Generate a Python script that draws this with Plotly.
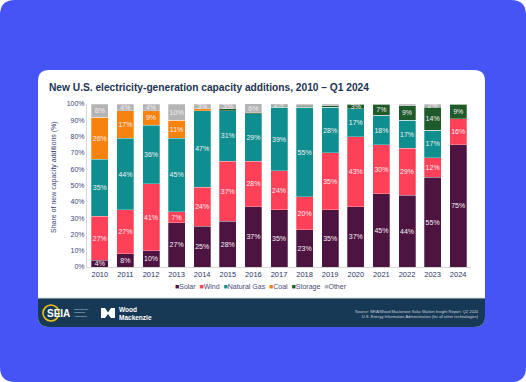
import plotly.graph_objects as go

years = ["2010", "2011", "2012", "2013", "2014", "2015", "2016", "2017",
         "2018", "2019", "2020", "2021", "2022", "2023", "2024"]
solar = [4, 8, 10, 27, 25, 28, 37, 35, 23, 35, 37, 45, 44, 55, 75]
wind = [27, 27, 41, 7, 24, 37, 28, 24, 20, 35, 43, 30, 29, 12, 16]
natural_gas = [35, 44, 36, 45, 47, 31, 29, 39, 55, 28, 17, 18, 17, 17, 0]
coal = [26, 17, 9, 11, 1, 0, 0, 0, 0, 0, 0, 0, 0, 0, 0]
storage = [0, 0, 0, 0, 0, 1, 0.5, 0.5, 0.5, 1, 3, 7, 9, 14, 9]
other = [8, 4, 4, 10, 3, 3, 6, 2, 1.5, 1, 0, 0, 1, 2, 0]

series = [
    ("Solar", solar, "#4E1441"),
    ("Wind", wind, "#FE4158"),
    ("Natural Gas", natural_gas, "#0F8E8F"),
    ("Coal", coal, "#F7830F"),
    ("Storage", storage, "#1F5A2A"),
    ("Other", other, "#B4B4B4"),
]

W, H = 526, 382
L, R, T, B = 87, 55, 104, 115
PW, PH = W - L - R, H - T - B


def px(x):
    return (x - L) / PW


def py(y):
    return (H - B - y) / PH


def rrect(x0, y0, x1, y1, r, tl=True, tr=True, br=True, bl=True):
    def p(x, y):
        return f"{px(x):.5f},{py(y):.5f}"
    s = ""
    s += "M " + (p(x0 + r, y0) if tl else p(x0, y0))
    s += " L " + (p(x1 - r, y0) if tr else p(x1, y0))
    if tr:
        s += " Q " + p(x1, y0) + " " + p(x1, y0 + r)
    s += " L " + (p(x1, y1 - r) if br else p(x1, y1))
    if br:
        s += " Q " + p(x1, y1) + " " + p(x1 - r, y1)
    s += " L " + (p(x0 + r, y1) if bl else p(x0, y1))
    if bl:
        s += " Q " + p(x0, y1) + " " + p(x0, y1 - r)
    s += " L " + (p(x0, y0 + r) if tl else p(x0, y0))
    if tl:
        s += " Q " + p(x0, y0) + " " + p(x0 + r, y0)
    s += " Z"
    return s


FONT = "Liberation Sans, Arial, sans-serif"

fig = go.Figure()
for name, vals, col in series:
    fig.add_trace(go.Bar(
        x=years, y=vals, name=name,
        marker=dict(color=col, line=dict(color="rgba(255,255,255,0.55)", width=0.5)),
        text=[f"{v:.0f}%" if v >= 2 else "" for v in vals],
        textposition="inside", insidetextanchor="middle", textangle=0,
        textfont=dict(size=7, color="#F4EEF3", family=FONT),
        showlegend=False, hoverinfo="skip",
    ))

shapes = [
    dict(type="path", path=rrect(0, 0, W, H, 15), xref="paper", yref="paper",
         fillcolor="#4654F5", line=dict(width=0), layer="below"),
    dict(type="path", path=rrect(38, 70, 485, 327, 11), xref="paper", yref="paper",
         fillcolor="#FFFFFF", line=dict(width=0), layer="below"),
    dict(type="path", path=rrect(38, 298, 485, 327, 11, tl=False, tr=False),
         xref="paper", yref="paper", fillcolor="#173955", line=dict(width=0), layer="below"),
    dict(type="line", x0=px(38), x1=px(485), y0=py(298), y1=py(298), xref="paper", yref="paper",
         line=dict(color="#D5D9DF", width=1), layer="below"),
    dict(type="circle", x0=px(43), x1=px(59), y0=py(321), y1=py(305), xref="paper", yref="paper",
         line=dict(color="#F3C21A", width=1.6), fillcolor="rgba(0,0,0,0)", layer="above"),
    dict(type="path", xref="paper", yref="paper", layer="above",
         path=("M {} L {} L {} L {} L {} L {} L {} L {} L {} L {} Z".format(
             *[f"{px(a):.5f},{py(b):.5f}" for a, b in
               [(101, 308), (105, 308), (108, 312.5), (111, 308), (115, 308),
                (115, 318), (111, 318), (108, 314), (105, 318), (101, 318)]])),
         fillcolor="#FFFFFF", line=dict(width=0)),
]

legend_html = "  ".join(
    f'<span style="color:{c}">■</span>{n}' for n, _, c in series
)

annotations = [
    dict(text="<b>New U.S. electricity-generation capacity additions, 2010 – Q1 2024</b>",
         x=px(47), y=py(88), xref="paper", yref="paper", xanchor="left", yanchor="middle",
         showarrow=False, font=dict(size=10.2, color="#1C3554", family=FONT)),
    dict(text="Share of new capacity additions (%)", textangle=-90,
         x=px(54), y=py(177), xref="paper", yref="paper", xanchor="center", yanchor="middle",
         showarrow=False, font=dict(size=7, color="#3B3F78", family=FONT)),
    dict(text=legend_html, x=px(261), y=py(287), xref="paper", yref="paper",
         xanchor="center", yanchor="middle", showarrow=False,
         font=dict(size=7, color="#4A4A7A", family=FONT)),
    dict(text="<b>SEIA</b>", x=px(45), y=py(313.5), xref="paper", yref="paper",
         xanchor="left", yanchor="middle", showarrow=False,
         font=dict(size=10, color="#FFFFFF", family=FONT)),
    dict(text="Solar Energy<br>Industries<br>Association", x=px(72), y=py(313), xref="paper",
         yref="paper", xanchor="left", yanchor="middle", showarrow=False, align="left",
         font=dict(size=2.5, color="#DDE3EA", family=FONT)),
    dict(text="<b>Wood<br>Mackenzie</b>", x=px(117), y=py(313.5), xref="paper", yref="paper",
         xanchor="left", yanchor="middle", showarrow=False, align="left",
         font=dict(size=6.5, color="#FFFFFF", family=FONT)),
    dict(text="Source: SEIA/Wood Mackenzie Solar Market Insight Report  Q2 2024<br>"
              "U.S. Energy Information Administration (for all other technologies)",
         x=px(481), y=py(314), xref="paper", yref="paper", xanchor="right", yanchor="middle",
         showarrow=False, align="right",
         font=dict(size=4, color="#C9D2DE", family=FONT)),
]

fig.update_layout(
    width=W, height=H,
    margin=dict(l=L, r=R, t=T, b=B, pad=0),
    paper_bgcolor="#FFFFFF", plot_bgcolor="rgba(0,0,0,0)",
    barmode="stack", bargap=0.336,
    shapes=shapes, annotations=annotations,
    font=dict(family=FONT),
    xaxis=dict(showgrid=False, showline=True, linecolor="#D6D6D6", linewidth=1,
               ticks="", tickfont=dict(size=7.5, color="#2A3565", family=FONT)),
    yaxis=dict(range=[0, 100], dtick=10, ticksuffix="%", showgrid=False, zeroline=False,
               showline=True, linecolor="#D6D6D6", linewidth=1, ticks="",
               tickfont=dict(size=7, color="#3B3F78", family=FONT)),
    uniformtext=dict(minsize=7, mode="show"),
    showlegend=False,
    hovermode=False,
)

fig.write_html(
    "out.html",
    config={"displayModeBar": False},
    post_script="document.body.style.margin='0';document.body.style.padding='0';"
                "document.documentElement.style.overflow='hidden';",
)
